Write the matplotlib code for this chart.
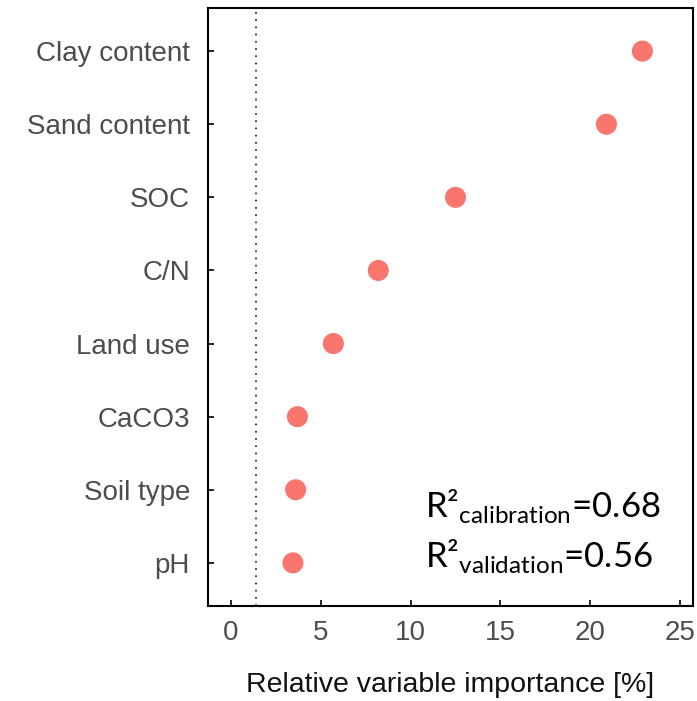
import numpy as np
import matplotlib.pyplot as plt

# variable importance (random forest), in %
variables = ['Clay content', 'Sand content', 'SOC', 'C/N', 'Land use', 'CaCO3', 'Soil type', 'pH']
importance = [22.9, 20.9, 12.5, 8.2, 5.7, 3.7, 3.6, 3.45]
cutoff = 1.4
r2_cal = 0.68
r2_val = 0.56

plt.rcParams['font.family'] = ['Liberation Sans', 'DejaVu Sans']

fig = plt.figure(figsize=(6.97, 7.01), dpi=100)
ax = fig.add_axes([0.2984, 0.1355, 0.6959, 0.8531])

ypos = np.arange(len(variables), 0, -1)
ax.scatter(importance, ypos, s=230, color='#F8766D', edgecolors='none', zorder=3)
ax.axvline(cutoff, color='#333333', linestyle=(0, (1, 3)), linewidth=1.3, zorder=2)

ax.set_xlim(-1.28, 25.72)
ax.set_ylim(0.41, 8.59)
ax.set_yticks(ypos)
ax.set_yticklabels(variables)
ax.set_xticks([0, 5, 10, 15, 20, 25])

ax.tick_params(direction='in', length=4, width=1.2, labelsize=20, labelcolor='#4D4D4D')
ax.tick_params(axis='x', pad=10)
ax.tick_params(axis='y', pad=13)
for s in ax.spines.values():
    s.set_linewidth(1.5)
    s.set_color('black')

ax.set_xlabel('Relative variable importance [%]', fontsize=20.5, color='#111111', labelpad=19)

r2_font = ['Lato', 'DejaVu Sans']
ax.text(0.4465, 0.149, 'R²$_{\\mathregular{calibration}}$=%.2f' % r2_cal, transform=ax.transAxes,
        fontsize=25, family=r2_font, color='black', va='baseline', ha='left')
ax.text(0.4465, 0.065, 'R²$_{\\mathregular{validation}}$=%.2f' % r2_val, transform=ax.transAxes,
        fontsize=25, family=r2_font, color='black', va='baseline', ha='left')

fig.savefig('out.png', dpi=100)
